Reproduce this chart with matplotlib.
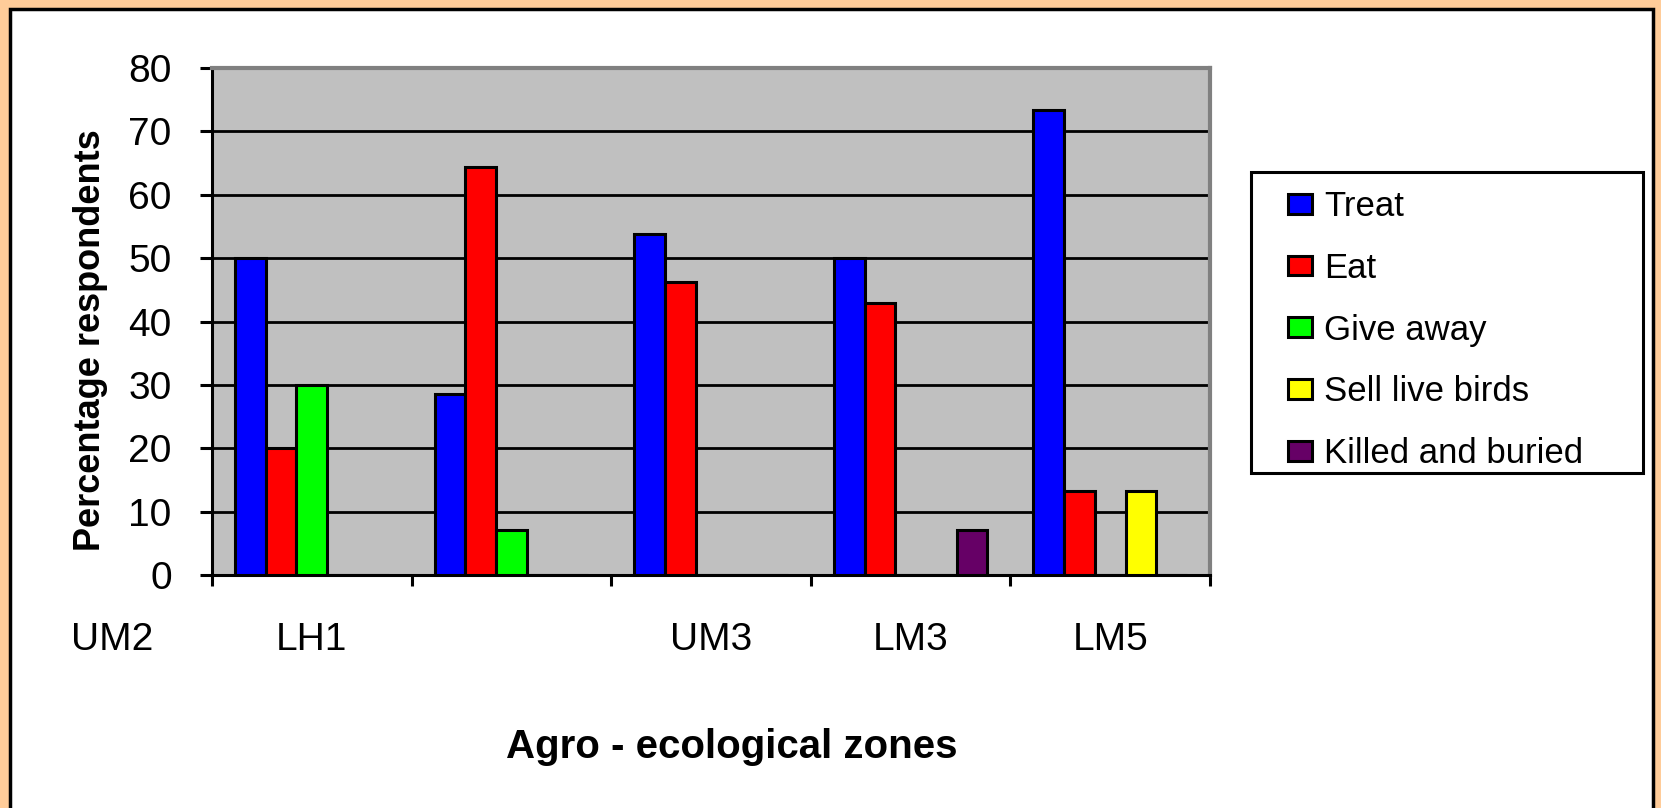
import matplotlib
matplotlib.use("Agg")
import matplotlib.pyplot as plt
from matplotlib.patches import Rectangle
import numpy as np

plt.rcParams['font.family'] = ['Liberation Sans', 'DejaVu Sans']

# data
zones = ["UM2", "LH1", "UM3", "LM3", "LM5"]
zone_pos = [-1, 0, 2, 3, 4]          # where the labels sit in the original
series = ["Treat", "Eat", "Give away", "Sell live birds", "Killed and buried"]
treat = [50, 28.6, 53.8, 50, 73.3]
eat = [20, 64.3, 46.2, 42.9, 13.3]
give_away = [30, 7.1, 0, 0, 0]
sell_live = [0, 0, 0, 0, 13.3]
killed = [0, 0, 0, 7.1, 0]
colors = ["#0000FF", "#FF0000", "#00FF00", "#FFFF00", "#660066"]

W, H = 1661, 808
fig = plt.figure(figsize=(W / 100, H / 100), dpi=100)
fig.patch.set_facecolor("#FFCC99")
# white chart area with black border
fig.patches.append(Rectangle((10 / W, -0.05), 1643 / W, 1.05 - 9 / H,
                             transform=fig.transFigure, facecolor="white",
                             edgecolor="black", linewidth=2.5, zorder=-5))

ax = fig.add_axes([212 / W, 1 - 575 / H, 998 / W, 507 / H])
ax.set_facecolor("#C0C0C0")

x = np.arange(5)
w = 1 / 6.5
for i, (vals, name) in enumerate(zip([treat, eat, give_away, sell_live, killed], series)):
    ax.bar(x + (i - 2) * w, vals, w, color=colors[i], edgecolor="black",
           linewidth=2.2, label=name, zorder=3)

ax.set_xlim(-0.5, 4.5)
ax.set_ylim(0, 80)
ax.set_yticks(range(0, 81, 10))
ax.yaxis.grid(True, color="black", linewidth=2, zorder=1)
ax.set_axisbelow(True)
ax.tick_params(axis="y", direction="out", length=9, width=2.2, pad=20, labelsize=28)
ax.set_xticks(np.arange(-0.5, 5, 1))
ax.set_xticklabels([])
ax.tick_params(axis="x", direction="out", length=8, width=2.2)

for s in ["top", "right"]:
    ax.spines[s].set_color("#808080")
    ax.spines[s].set_linewidth(3)
for s in ["left", "bottom"]:
    ax.spines[s].set_color("black")
    ax.spines[s].set_linewidth(2.2)

for lab, p in zip(zones, zone_pos):
    ax.text(p, -10.3, lab, ha="center", va="center", fontsize=28, clip_on=False)

ax.set_ylabel("Percentage respondents", fontsize=26, fontweight="bold")
ax.yaxis.set_label_coords(-0.104, 0.463)
fig.text(732 / W, 1 - 747 / H, "Agro - ecological zones", ha="center",
         va="center", fontsize=29, fontweight="bold")

# legend box drawn separately so the entries can sit like the original
fig.patches.append(Rectangle((1251 / W, 1 - 473 / H), 392 / W, 301 / H,
                             transform=fig.transFigure, facecolor="white",
                             edgecolor="black", linewidth=2.2, zorder=-1))
leg = fig.legend(loc="upper left", bbox_to_anchor=(1288 / W, 1 - 190 / H),
                 fontsize=25, frameon=False, handlelength=0.7, handleheight=0.5,
                 labelspacing=0.83, borderpad=0, handletextpad=0.35,
                 borderaxespad=0)
for h in leg.legend_handles:
    h.set_linewidth(2.2)

fig.savefig("out.png", dpi=100, facecolor=fig.get_facecolor())
